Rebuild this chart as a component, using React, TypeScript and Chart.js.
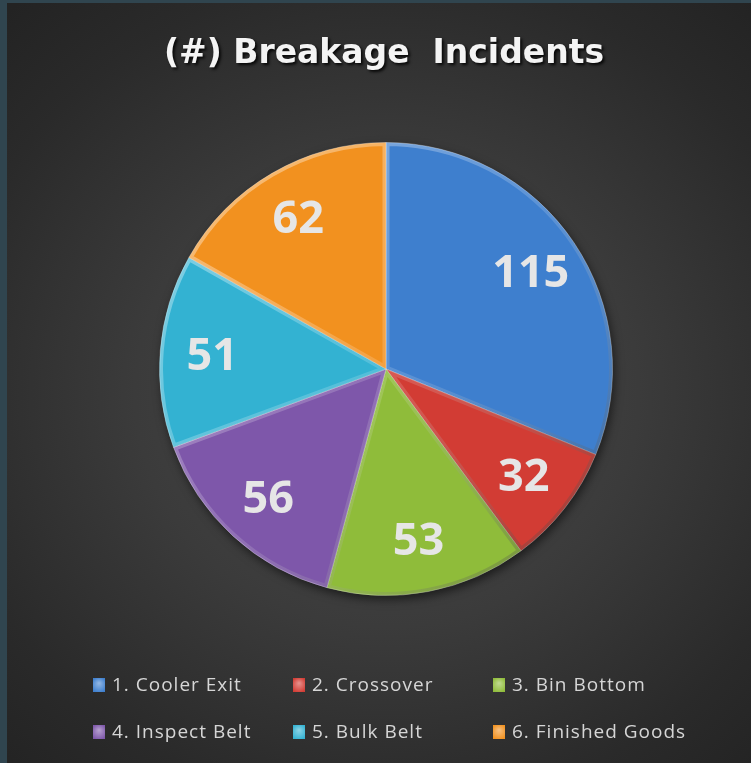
import React, { useEffect, useRef } from "react";
import { Chart, registerables } from "chart.js";

Chart.register(...registerables);

const titleText = "(#) Breakage  Incidents";
const categories = [
  "1. Cooler Exit",
  "2. Crossover",
  "3. Bin Bottom",
  "4. Inspect Belt",
  "5. Bulk Belt",
  "6. Finished Goods",
];
const incidents = [115, 32, 53, 56, 51, 62];
const sliceColors = ["#3e7fce", "#d23c34", "#8fbc3a", "#7e57aa", "#33b2d2", "#f2911f"];

const CANVAS_W = 744;
const CANVAS_H = 760;

const pieEffectsPlugin = {
  id: "pieEffects",
  beforeDatasetsDraw(chart: any) {
    const meta = chart.getDatasetMeta(0);
    if (!meta.data.length) return;
    const a = meta.data[0].getProps(["x", "y", "outerRadius"], true);
    const ctx = chart.ctx;
    ctx.save();
    ctx.shadowColor = "rgba(0,0,0,0.55)";
    ctx.shadowBlur = 10;
    ctx.shadowOffsetX = 2;
    ctx.shadowOffsetY = 4;
    ctx.fillStyle = "#333";
    ctx.beginPath();
    ctx.arc(a.x, a.y, a.outerRadius, 0, Math.PI * 2);
    ctx.fill();
    ctx.restore();
  },
  afterDatasetsDraw(chart: any) {
    const ctx = chart.ctx;
    const meta = chart.getDatasetMeta(0);
    meta.data.forEach((el: any) => {
      const p = el.getProps(["x", "y", "startAngle", "endAngle", "outerRadius"], true);
      const { x, y, startAngle, endAngle, outerRadius: r } = p;
      ctx.save();
      ctx.beginPath();
      ctx.moveTo(x, y);
      ctx.arc(x, y, r, startAngle, endAngle);
      ctx.closePath();
      ctx.clip();
      const g = ctx.createLinearGradient(x - r, y - r, x + r, y + r);
      g.addColorStop(0, "rgba(255,255,255,0.45)");
      g.addColorStop(0.5, "rgba(255,255,255,0.15)");
      g.addColorStop(1, "rgba(0,0,0,0.35)");
      ctx.lineWidth = 7;
      ctx.lineJoin = "round";
      ctx.strokeStyle = g;
      ctx.stroke();
      ctx.restore();
    });
    meta.data.forEach((el: any, i: number) => {
      const p = el.getProps(["x", "y", "startAngle", "endAngle", "outerRadius"], true);
      const mid = (p.startAngle + p.endAngle) / 2;
      const d = p.outerRadius * 0.77;
      const lx = p.x + Math.cos(mid) * d;
      const ly = p.y + Math.sin(mid) * d;
      ctx.save();
      ctx.font = "bold 45px 'Open Sans'";
      ctx.fillStyle = "#e6e6e6";
      ctx.textAlign = "center";
      ctx.textBaseline = "middle";
      ctx.fillText(String(chart.data.datasets[0].data[i]), lx, ly + 2);
      ctx.restore();
    });
  },
};

const titlePlugin = {
  id: "shadowTitle",
  afterDraw(chart: any) {
    const ctx = chart.ctx;
    ctx.save();
    ctx.font = "bold 33px 'DejaVu Sans'";
    ctx.textAlign = "center";
    ctx.textBaseline = "alphabetic";
    ctx.shadowColor = "rgba(0,0,0,0.85)";
    ctx.shadowBlur = 3;
    ctx.shadowOffsetX = 2;
    ctx.shadowOffsetY = 2;
    ctx.fillStyle = "#f4f4f4";
    ctx.fillText(titleText, 377, 60);
    ctx.restore();
  },
};

const gridLegendPlugin = {
  id: "gridLegend",
  afterDraw(chart: any) {
    const ctx = chart.ctx;
    const labels: string[] = chart.data.labels;
    const colors: string[] = chart.data.datasets[0].backgroundColor;
    const left = 86;
    const colW = 200;
    const rowTop = 682;
    const rowH = 47;
    labels.forEach((lab, i) => {
      const col = i % 3;
      const row = Math.floor(i / 3);
      const bx = left + col * colW;
      const cy = rowTop + row * rowH;
      ctx.save();
      ctx.fillStyle = colors[i];
      ctx.fillRect(bx, cy - 7, 12, 14);
      const g = ctx.createRadialGradient(bx + 6, cy - 2, 0, bx + 6, cy, 8);
      g.addColorStop(0, "rgba(255,255,255,0.45)");
      g.addColorStop(1, "rgba(255,255,255,0)");
      ctx.fillStyle = g;
      ctx.fillRect(bx, cy - 7, 12, 14);
      ctx.font = "19px 'Open Sans'";
      (ctx as any).letterSpacing = "1px";
      ctx.fillStyle = "#d6d6d6";
      ctx.textAlign = "left";
      ctx.textBaseline = "middle";
      ctx.fillText(lab, bx + 19, cy + 1);
      ctx.restore();
    });
  },
};

export default function App() {
  const ref = useRef<HTMLCanvasElement | null>(null);

  useEffect(() => {
    if (!ref.current) return;
    const chart = new Chart(ref.current, {
      type: "pie",
      data: {
        labels: categories,
        datasets: [
          {
            data: incidents,
            backgroundColor: sliceColors,
            borderColor: "rgba(255,255,255,0.3)",
            borderWidth: 1,
          },
        ],
      },
      options: {
        responsive: false,
        animation: false,
        layout: { padding: { left: 152, right: 138, top: 139, bottom: 167 } },
        plugins: {
          legend: { display: false },
          title: { display: false },
          tooltip: { enabled: false },
        },
      },
      plugins: [pieEffectsPlugin, titlePlugin, gridLegendPlugin],
    });
    return () => chart.destroy();
  }, []);

  return (
    <div
      style={{
        position: "absolute",
        left: 0,
        top: 0,
        width: 751,
        height: 763,
        boxSizing: "border-box",
        borderLeft: "7px solid #30454f",
        borderTop: "3px solid #30454f",
        background:
          "radial-gradient(ellipse 560px 520px at 380px 390px, #4a4a4a 0%, #3b3b3b 45%, #2a2a2a 80%, #232323 100%)",
      }}
    >
      <canvas ref={ref} width={CANVAS_W} height={CANVAS_H} style={{ display: "block" }} />
    </div>
  );
}
